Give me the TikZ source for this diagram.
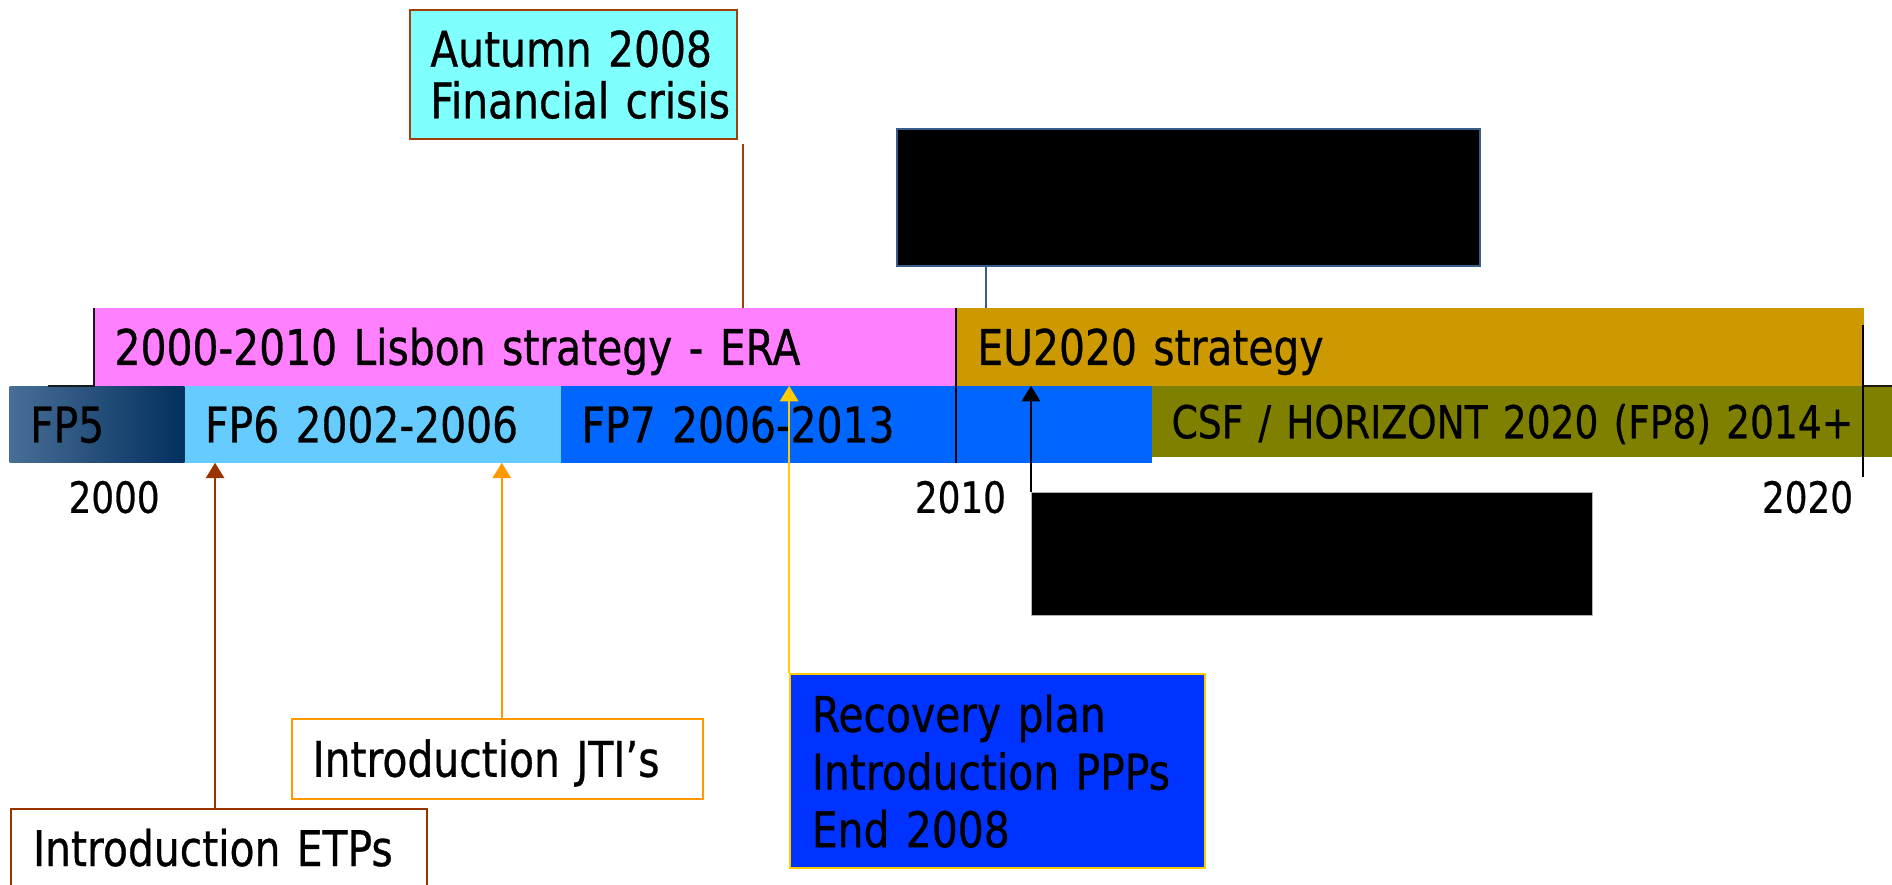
\documentclass[tikz,border=0pt]{standalone}
\usepackage{fontspec}
\setmainfont{DejaVu Sans}[FakeStretch=0.83, FakeBold=0.6]
\usetikzlibrary{arrows,arrows.meta,shapes,positioning,calc}
\definecolor{lisbonpink}{HTML}{FF80FF}
\definecolor{eugold}{HTML}{CC9900}
\definecolor{csfolive}{HTML}{808000}
\definecolor{fpfiveleft}{HTML}{476E96}
\definecolor{fpfiveright}{HTML}{03305F}
\definecolor{fpsixblue}{HTML}{66CCFF}
\definecolor{fpsevenblue}{HTML}{0066FF}
\definecolor{crisiscyan}{HTML}{80FFFF}
\definecolor{crisisedge}{HTML}{A0410D}
\definecolor{etpbrown}{HTML}{993300}
\definecolor{jtiorange}{HTML}{FF9900}
\definecolor{ppyellow}{HTML}{FFCC00}
\definecolor{ppblue}{HTML}{0033FF}
\definecolor{eutopedge}{HTML}{385D8A}
\newcommand{\barfont}{\fontsize{29}{34}\selectfont}
\newcommand{\csffont}{\fontsize{26.7}{30}\selectfont}
\newcommand{\yearfont}{\fontsize{25.4}{30}\selectfont}
\tikzset{
  timebar/.style={anchor=north west, outer sep=0pt, inner xsep=0.425cm, inner ysep=0pt, align=left, text height=0.745cm, text depth=0pt, font=\barfont},
  callout/.style={anchor=north west, inner xsep=0.43cm, inner ysep=0pt, align=left, line width=1.2pt, font=\barfont},
  yearlabel/.style={inner sep=0pt, text height=0.65cm, text depth=0pt, font=\yearfont},
  pin/.style={line width=1.2pt, -{Triangle[length=0.32cm, width=0.38cm]}},
}

\begin{document}
\begin{tikzpicture}
  \useasboundingbox (0,0) rectangle (39.2,-18.335);
  % strategies
  \draw node[timebar, fill=lisbonpink, minimum width=17.85cm, text width=17cm, minimum height=1.625cm] (lisbon) at (1.95,-6.375) {2000-2010 Lisbon strategy - ERA};
  \draw node[timebar, fill=eugold, minimum width=18.8cm, text width=17.95cm, minimum height=1.625cm] (eu) at (19.825,-6.375) {EU2020 strategy};
  % framework programmes
  \draw node[timebar, left color=fpfiveleft, right color=fpfiveright, minimum width=3.625cm, text width=2.775cm, minimum height=1.5875cm] (fp5) at (0.2,-8) {FP5};
  \draw node[timebar, fill=fpsixblue, minimum width=7.8cm, text width=6.95cm, minimum height=1.5875cm, right = 0pt of fp5] (fp6) {FP6 2002-2006};
  \draw node[timebar, fill=fpsevenblue, minimum width=12.25cm, text width=11.4cm, minimum height=1.6cm, right = 0pt of fp6] (fp7) {FP7 2006-2013};
  \draw node[timebar, fill=csfolive, font=\csffont, text height=0.685cm, inner xsep=0.4cm, minimum width=15.325cm, text width=14.525cm, minimum height=1.475cm] (csf) at (23.875,-8) {CSF / HORIZONT 2020 (FP8) 2014+};

  \draw node[yearlabel] (y2000) at (2.365,-10.3) {2000};
  \draw node[yearlabel] (y2010) at (19.9,-10.3) {2010};
  \draw node[yearlabel] (y2020) at (37.45,-10.3) {2020};

  % dividers
  \draw[line width=1pt] (lisbon.north east) -- (lisbon.north east |- fp7.south);
  \coordinate (euend) at ($(eu.north east)+(-0.025,-0.35)$);
  \draw[line width=1pt] (euend) -- ++(0,-3.15);
  \draw[gray!20!black, line width=1pt] (lisbon.north west) -- (lisbon.south west) -- ++(-0.95,0);
  \draw[gray!20!black, line width=1pt] (eu.south east) -- ++(0.6,0);

  % events
  \draw node[callout, draw=crisisedge, fill=crisiscyan, font=\fontsize{29}{30.4}\selectfont, minimum width=6.78cm, text width=5.92cm, minimum height=2.675cm] (crisis) at (8.465,-0.1875) {\mbox{Autumn 2008}\\\mbox{Financial crisis}};
  \draw node[anchor=north west, draw=eutopedge, fill=black, line width=1.2pt, inner sep=0pt, minimum width=12.085cm, minimum height=2.84cm] (eutop) at (18.565,-2.65) {};
  \draw node[anchor=north west, draw=gray!60, fill=black, line width=0.4pt, inner sep=0pt, minimum width=11.615cm, minimum height=2.555cm] (eubot) at (21.36,-10.1875) {};
  \draw node[callout, draw=ppyellow, fill=ppblue, inner xsep=0.45cm, minimum width=8.59cm, text width=7.69cm, minimum height=4.015cm] (pp) at (16.35,-13.95) {\mbox{Recovery plan}\\\mbox{Introduction PPPs}\\\mbox{End 2008}};
  \draw node[callout, draw=jtiorange, fill=white, text height=0.745cm, text depth=0pt, minimum width=8.51cm, text width=7.65cm, minimum height=1.65cm] (jti) at (6.025,-14.875) {Introduction JTI’s};
  \draw node[callout, draw=etpbrown, fill=white, inner xsep=0.45cm, text height=0.745cm, text depth=0pt, minimum width=8.62cm, text width=7.72cm, minimum height=1.61cm] (etps) at (0.215,-16.745) {Introduction ETPs};

  % links
  \coordinate (crisisfoot) at (15.4,-2.98);
  \draw[crisisedge, line width=1.2pt] (crisisfoot) -- (crisisfoot |- lisbon.north);
  \coordinate (eufoot) at ($(eutop.south west)+(1.86,0)$);
  \draw[eutopedge, line width=1.2pt] (eufoot) -- (eufoot |- eu.north);
  \coordinate (etpfoot) at ($(etps.north)+(-0.09,0)$);
  \draw (etpfoot) edge[pin, etpbrown] (etpfoot |- fp6.south);
  \coordinate (jtifoot) at ($(jti.north)+(0.095,0)$);
  \draw (jtifoot) edge[pin, jtiorange] (jtifoot |- fp6.south);
  \draw (pp.north west) edge[pin, ppyellow] (pp.north west |- fp7.north);
  \draw (eubot.north west) edge[pin, black] (eubot.north west |- fp7.north);
\end{tikzpicture}
\end{document}
